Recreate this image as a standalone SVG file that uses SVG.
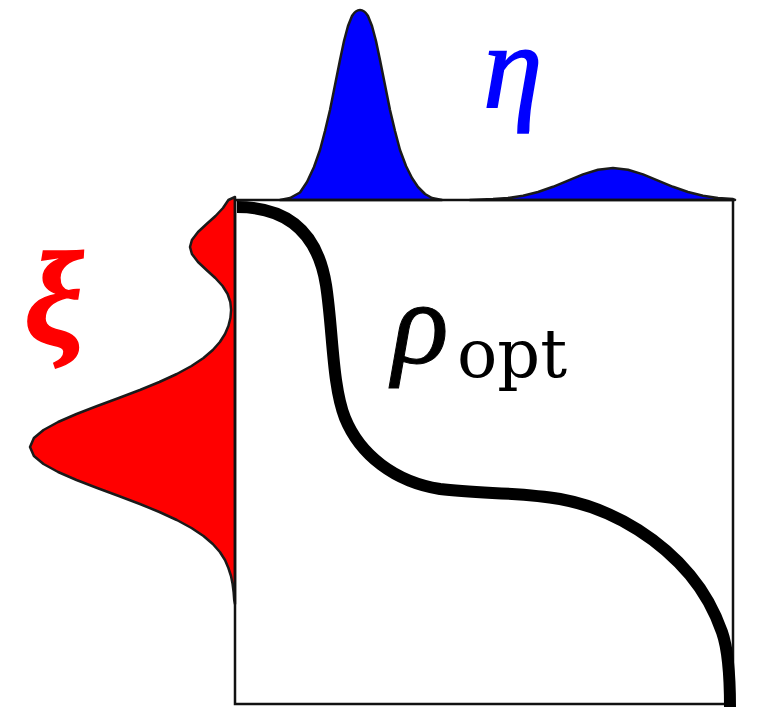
<svg xmlns="http://www.w3.org/2000/svg" width="758" height="707" viewBox="0 0 758 707">
<style>
.dens{stroke:#1a1a1a;stroke-width:2.5;stroke-linejoin:round}
.box{fill:none;stroke:#111;stroke-width:2.5}
.lbl{font-family:"Liberation Serif","DejaVu Serif",serif;font-style:italic}
</style>
<rect width="758" height="707" fill="#fff"/>
<g id="eta-density">
<path class="dens" fill="#0000ff" d="M280,200 L290,198 L300,192.5 L307,182 L314,167 L320,150 L325,131 L330,110 L335,85 L340,60 L344,41 L348,26 L352,16 C355,11 357,10 360,10 C363,10 365,11 368,16 L372,26 L376,41 L380,60 L385,85 L390,110 L395,131 L400,150 L406,166 L412,178 L418,187 L425,194 L432,198 L442,200 Z"/>
<path class="dens" fill="#0000ff" d="M470,200 L493,199.1 L508,197.9 L523,195.7 L538,192 L553,186.8 L568,180.6 L583,174.4 L598,169.7 L613,168 L628,169.7 L643,174.4 L658,180.6 L673,186.8 L688,192 L703,195.7 L718,197.9 L733,199.1 L735,200 Z"/>
</g>
<g id="xi-density">
<path class="dens" fill="#ff0000" d="M235,197 L228.4,200 L223,208 L215.5,216 L206.6,224 L198,232 L191.9,240 L190,247 L191.9,254 L198,262 L206.5,270 L215.3,278 L222.6,286 L227.6,294 L230.3,302 L231.1,310 L230.4,318 L228.4,326 L225,334 L219.9,342 L212.8,350 L203.5,358 L191.5,366 L176.8,374 L159.4,382 L139.9,390 L118.8,398 L97.2,406 L76.5,414 L58.1,422 L43.5,430 L33.9,438 L30,447 L33.9,456 L43.5,464 L58.1,472 L76.5,480 L97.2,488 L118.8,496 L139.9,504 L159.4,512 L176.8,520 L191.5,528 L203.5,536 L212.8,544 L219.9,552 L225,560 L228.4,568 L231,576 L232.6,584 L233.6,592 L234.2,600 L235,604 Z"/>
</g>
<g id="box">
<rect class="box" x="235" y="200" width="498" height="504"/>
</g>
<g id="rho-opt-curve">
<path fill="none" stroke="#000" stroke-width="12" d="M237,207 C290,207 318,235 326,285 C333,330 332,385 345,418 C360,455 395,482 440,489 C480,494 520,492 560,499 C620,510 665,545 690,575 C705,593 715,612 722,632 C729,652 730,680 730,707"/>
</g>
<g id="labels">
<text class="lbl" x="483" y="107" font-size="120" fill="#0000ff" stroke="#0000ff" stroke-width="1.5">η</text>
<text class="lbl" x="24" y="344" font-size="134" font-weight="bold" fill="#ff0000" stroke="#ff0000" stroke-width="1.5">ξ</text>
<text class="lbl" x="392" y="363" font-size="118" fill="#000" stroke="#000" stroke-width="1">ρ</text>
<text x="457" y="377" font-family="DejaVu Serif, serif" font-size="67" fill="#000">opt</text>
</g>
</svg>
